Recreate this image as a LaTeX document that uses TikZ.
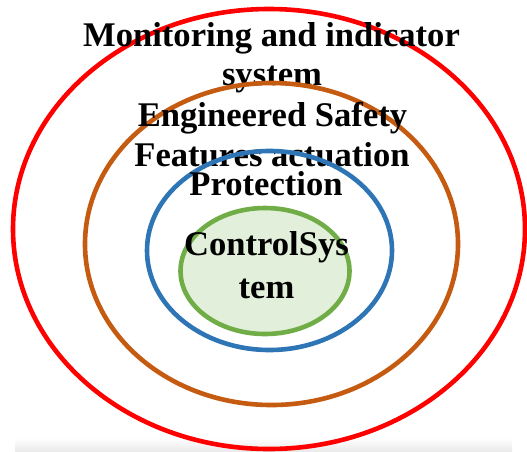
\documentclass[tikz,border=0pt]{standalone}
\usepackage{fontspec}
\setmainfont{Liberation Serif}
\definecolor{cred}{HTML}{FF0000}
\definecolor{corange}{HTML}{C55A11}
\definecolor{cblue}{HTML}{2E75B6}
\definecolor{cgreen}{HTML}{70AD47}
\definecolor{cgfill}{HTML}{E2EFDA}
\begin{document}
\begin{tikzpicture}[x=1pt,y=-1pt,
  ring/.style={line width=4.6pt},
  lbl/.style={anchor=base,inner sep=0pt,font=\fontsize{34.6}{39}\selectfont\bfseries}]
\useasboundingbox (0,0) rectangle (527,451);
\shade[top color=white,bottom color=black!8] (15,438) rectangle (512,451);
% red
\draw[ring,cred] (269,229) ellipse [x radius=256,y radius=220];
\node[lbl] (mon1) at (271.5,46.7) {Monitoring and indicator};
\node[lbl] (mon2) at (272,85.7) {system};
% orange
\draw[ring,corange] (271.5,244) ellipse [x radius=186.5,y radius=161];
\node[lbl] (esf1) at (272.5,126.7) {Engineered Safety};
\node[lbl] (esf2) at (272,166) {Features actuation};
% blue
\draw[ring,cblue] (269.5,250.5) ellipse [x radius=122.5,y radius=99.5];
\node[lbl] (prot) at (266,195) {Protection};
% green
\draw[ring,cgreen,fill=cgfill] (265,271) ellipse [x radius=84.5,y radius=63];
\node[lbl] (ctl1) at (266.5,255) {ControlSys};
\node[lbl] (ctl2) at (266.5,298) {tem};
\end{tikzpicture}
\end{document}
